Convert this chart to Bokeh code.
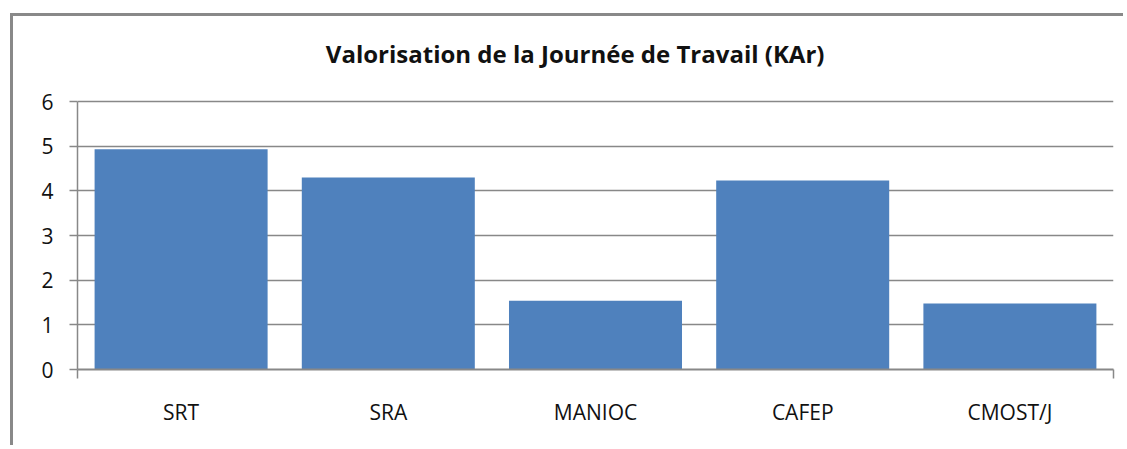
from bokeh.plotting import figure
from bokeh.models import FixedTicker, ColumnDataSource, Label
from bokeh.embed import file_html
from bokeh.resources import INLINE

categories = ["SRT", "SRA", "MANIOC", "CAFEP", "CMOST/J"]
values = [4.93, 4.30, 1.54, 4.23, 1.48]
y_ticks = [0, 1, 2, 3, 4, 5, 6]
title_text = "Valorisation  de la Journée de  Travail  (KAr)"

xs = [i + 0.5 for i in range(len(categories))]
src = ColumnDataSource(dict(x=xs, top=values, cat=categories))

# plot area: value axis 0..6 occupies 268 px; frame extended upward to hold the title
y_max = 6
y_end = y_max * (369 - 30) / (369 - 101)

p = figure(width=1113, height=432, output_backend="svg", toolbar_location=None,
           x_range=(0, len(categories)), y_range=(0, y_end),
           min_border_left=64, min_border_top=14, min_border_bottom=79, min_border_right=13)
p.styles = {"margin-left": "10px", "margin-top": "13px",
            "border-left": "3px solid #898989", "border-top": "3px solid #898989"}

p.vbar(x="x", top="top", width=0.835, bottom=0, source=src, fill_color="#4F81BD", line_color=None)

p.add_layout(Label(x=507, y=316, x_units="screen", y_units="screen", text=title_text,
                   text_align="center", text_baseline="middle", text_font="Open Sans",
                   text_font_style="bold", text_font_size="24px", text_color="#111111"))

p.outline_line_color = None
p.xgrid.grid_line_color = None
p.ygrid.grid_line_color = "#888888"
p.ygrid.grid_line_width = 1.5
p.ygrid.ticker = FixedTicker(ticks=y_ticks)

ya = p.yaxis[0]
ya.ticker = FixedTicker(ticks=y_ticks)
ya.bounds = (0, y_max)
ya.axis_line_color = "#888888"
ya.axis_line_width = 1.5
ya.major_tick_line_color = "#888888"
ya.major_tick_line_width = 1.5
ya.major_tick_out = 8
ya.major_tick_in = 0
ya.minor_tick_line_color = None
ya.major_label_standoff = 16
ya.major_label_text_font = "Open Sans"
ya.major_label_text_font_size = "21px"
ya.major_label_text_color = "#111111"

xa = p.xaxis[0]
xa.ticker = FixedTicker(ticks=xs, minor_ticks=[0, len(categories)])
xa.major_label_overrides = {x: c for x, c in zip(xs, categories)}
xa.axis_line_color = "#888888"
xa.axis_line_width = 2
xa.major_tick_line_color = None
xa.minor_tick_line_color = "#888888"
xa.minor_tick_line_width = 1.5
xa.minor_tick_out = 9
xa.minor_tick_in = 0
xa.major_label_standoff = 19
xa.major_label_text_font = "Open Sans"
xa.major_label_text_font_size = "21px"
xa.major_label_text_color = "#111111"

open("out.html", "w").write(file_html(p, INLINE))
